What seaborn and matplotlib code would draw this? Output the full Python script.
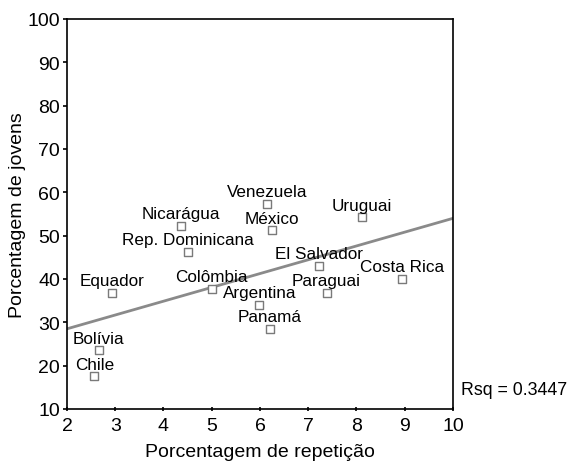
import matplotlib
matplotlib.use("Agg")
import matplotlib.pyplot as plt
import seaborn as sns
import pandas as pd

# Repetition rate vs. share of young people, by country
countries = ["Equador", "Nicarágua", "Rep. Dominicana", "Colômbia", "Venezuela",
             "México", "Argentina", "Panamá", "Bolívia", "Chile", "Uruguai",
             "El Salvador", "Paraguai", "Costa Rica"]
repeticao = [2.94, 4.36, 4.51, 5.00, 6.15, 6.25, 5.99, 6.21, 2.66, 2.57, 8.12,
             7.23, 7.38, 8.95]
jovens = [36.8, 52.3, 46.3, 37.7, 57.3, 51.2, 34.0, 28.5, 23.5, 17.5, 54.2,
          43.1, 36.8, 40.0]

# Linear fit line as drawn across the x range
fit_x = [2, 10]
fit_y = [28.5, 54.0]
rsq_text = "Rsq = 0.3447"

x_ticks = [2, 3, 4, 5, 6, 7, 8, 9, 10]
y_ticks = [10, 20, 30, 40, 50, 60, 70, 80, 90, 100]

df = pd.DataFrame({"pais": countries, "x": repeticao, "y": jovens})
fit = pd.DataFrame({"x": fit_x, "y": fit_y})

sns.set_style("white")
plt.rcParams["font.family"] = ["Liberation Sans", "DejaVu Sans"]
plt.rcParams["text.color"] = "black"
plt.rcParams["axes.labelcolor"] = "black"
plt.rcParams["xtick.color"] = "black"
plt.rcParams["ytick.color"] = "black"

fig = plt.figure(figsize=(5.71, 4.64), dpi=100)
ax = fig.add_axes([0.1173, 0.1164, 0.676, 0.8405])

sns.lineplot(data=fit, x="x", y="y", ax=ax, color="#8a8a8a", linewidth=2.0,
             zorder=2)
sns.scatterplot(data=df, x="x", y="y", ax=ax, marker="s", s=40,
                facecolor="white", edgecolor="#7a7a7a", linewidth=1.0,
                zorder=3)

for name, xv, yv in zip(countries, repeticao, jovens):
    ax.annotate(name, (xv, yv), xytext=(0, 5.5), textcoords="offset points",
                ha="center", va="baseline", fontsize=12.3, color="black",
                zorder=4)

ax.set_xlim(2, 10)
ax.set_ylim(10, 100)
ax.set_xticks(x_ticks)
ax.set_yticks(y_ticks)
ax.set_xticklabels([str(t) for t in x_ticks])
ax.set_yticklabels([str(t) for t in y_ticks])
ax.tick_params(axis="both", labelsize=14, length=3, width=1.2, color="black",
               labelcolor="black", left=True, bottom=True)
ax.tick_params(axis="x", direction="inout", pad=4)
ax.tick_params(axis="y", direction="out", pad=2)

for side in ["left", "bottom", "top", "right"]:
    ax.spines[side].set_visible(True)
    ax.spines[side].set_color("black")
    ax.spines[side].set_linewidth(1.2)

ax.set_xlabel("Porcentagem de repetição", fontsize=14, labelpad=7,
              color="black")
ax.set_ylabel("Porcentagem de jovens", fontsize=14, labelpad=1,
              color="black")

ax.text(1.02, 0.05, rsq_text, transform=ax.transAxes, ha="left",
        va="center", fontsize=12.8, color="black")

fig.savefig("out.png", dpi=100, facecolor="white")
